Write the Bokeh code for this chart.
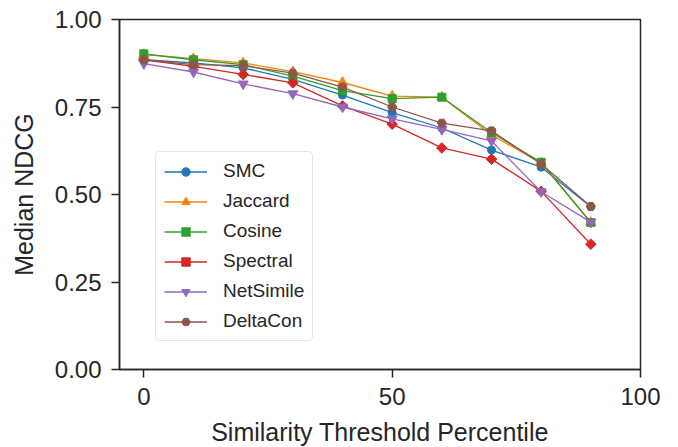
import numpy as np
from bokeh.plotting import figure
from bokeh.models import Range1d, FixedTicker, NumeralTickFormatter, Legend
from bokeh.embed import file_html
from bokeh.resources import INLINE

x = [0, 10, 20, 30, 40, 50, 60, 70, 80, 90]
smc = [0.885, 0.876, 0.862, 0.829, 0.784, 0.734, 0.690, 0.627, 0.578, 0.465]
jaccard = [0.900, 0.888, 0.876, 0.851, 0.820, 0.781, 0.778, 0.670, 0.590, 0.420]
cosine = [0.902, 0.885, 0.871, 0.838, 0.797, 0.774, 0.778, 0.677, 0.592, 0.420]
spectral = [0.885, 0.866, 0.843, 0.819, 0.753, 0.701, 0.633, 0.601, 0.509, 0.358]
netsimile = [0.874, 0.850, 0.816, 0.788, 0.750, 0.716, 0.686, 0.653, 0.508, 0.421]
deltacon = [0.885, 0.871, 0.868, 0.847, 0.807, 0.750, 0.704, 0.682, 0.587, 0.466]

names = ["SMC", "Jaccard", "Cosine", "Spectral", "NetSimile", "DeltaCon"]
series = [smc, jaccard, cosine, spectral, netsimile, deltacon]
colors = ["#1f77b4", "#ff7f0e", "#2ca02c", "#d62728", "#9467bd", "#8c564b"]
markers = ["circle", "triangle", "square", "square", "inverted_triangle", "hex"]
sizes = [8, 10, 8, 7.5, 10, 9]
angles = [0.0, 0.0, 0.0, 0.785398, 0.0, 0.0]

x_ticks = [0, 50, 100]
y_ticks = [0.0, 0.25, 0.5, 0.75, 1.0]

FONT = "Liberation Sans"
TXT = "#262626"

p = figure(width=670, height=439, output_backend="svg", toolbar_location=None,
           x_range=Range1d(-4.9, 100), y_range=Range1d(0, 1),
           min_border_left=119, min_border_top=19, min_border_right=30, min_border_bottom=70)
p.frame_width = 521
p.frame_height = 350
p.grid.visible = False
p.background_fill_color = "white"
p.border_fill_color = "white"
p.outline_line_color = TXT
p.outline_line_width = 1.5

for ax in (p.xaxis[0], p.yaxis[0]):
    ax.axis_line_color = TXT
    ax.axis_line_width = 1.5
    ax.major_tick_line_color = TXT
    ax.major_tick_line_width = 1.5
    ax.major_tick_out = 8
    ax.major_tick_in = 0
    ax.minor_tick_line_color = None
    ax.major_label_text_font = FONT
    ax.major_label_text_font_size = "24px"
    ax.major_label_text_color = TXT
    ax.axis_label_text_font = FONT
    ax.axis_label_text_font_size = "25px"
    ax.axis_label_text_color = TXT
    ax.axis_label_text_font_style = "normal"
    ax.major_label_standoff = 10

p.xaxis.ticker = FixedTicker(ticks=x_ticks)
p.yaxis.ticker = FixedTicker(ticks=y_ticks)
p.yaxis.formatter = NumeralTickFormatter(format="0.00")
p.xaxis.axis_label = "Similarity Threshold Percentile"
p.yaxis.axis_label = "Median NDCG"
p.xaxis.axis_label_standoff = 10
p.yaxis.axis_label_standoff = 14

items = []
for name, ys, c, m, s, a in zip(names, series, colors, markers, sizes, angles):
    r1 = p.line(x, ys, line_color=c, line_width=1.3)
    r2 = p.scatter(x, ys, marker=m, size=s, angle=a, angle_units="rad",
                   fill_color=c, line_color=c)
    items.append((name, [r1, r2]))

legend = Legend(items=items, location=(36, 28))
legend.label_text_font = FONT
legend.label_text_font_size = "19px"
legend.label_text_color = TXT
legend.glyph_width = 43
legend.glyph_height = 21
legend.label_height = 21
legend.label_standoff = 16
legend.spacing = 8
legend.padding = 8
legend.margin = 0
legend.border_line_color = "#cccccc"
legend.border_line_width = 1.5
legend.border_radius = 5
legend.background_fill_alpha = 0.8
p.add_layout(legend, "center")

open("out.html", "w").write(file_html(p, INLINE))
